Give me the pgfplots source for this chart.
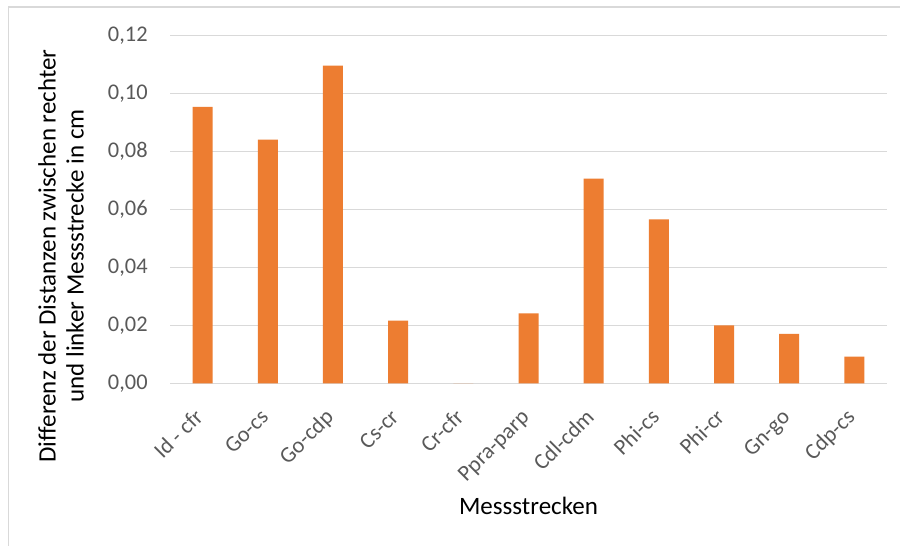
\documentclass[border=0pt]{standalone}
\usepackage{pgfplots}
\pgfplotsset{compat=1.18}
\usepackage{fontspec}
\setmainfont{Carlito}
\definecolor{barorange}{HTML}{ED7D31}
\definecolor{gridgray}{HTML}{D9D9D9}
\definecolor{ticktext}{HTML}{595959}
\begin{document}
\begin{tikzpicture}
% page area and chart frame (1 px = 0.5 pt)
\path[fill=white, use as bounding box] (0pt,0pt) rectangle (450pt,273pt);
\draw[gridgray, line width=0.6pt] (4.25pt,0pt) -- (4.25pt,269.5pt) -- (450pt,269.5pt);
\begin{axis}[
  at={(85pt,81.35pt)}, anchor=south west,
  scale only axis, width=358.5pt, height=173.8pt,
  xmin=-0.5, xmax=10.5, ymin=0, ymax=0.12,
  xtick={0,...,10},
  xticklabels={Id - cfr, Go-cs, Go-cdp, Cs-cr, Cr-cfr, Ppra-parp, Cdl-cdm, Phi-cs, Phi-cr, Gn-go, Cdp-cs},
  ytick={0,0.02,0.04,0.06,0.08,0.10,0.12},
  scaled y ticks=false,
  /pgf/number format/.cd, fixed, fixed zerofill, precision=2, use comma, assume math mode=true,
  /pgfplots/.cd,
  major tick length=0pt,
  axis line style={draw=none},
  ymajorgrids, grid style={gridgray, line width=0.7pt},
  tick label style={font=\fontsize{11.2}{13}\selectfont, text=ticktext},
  yticklabel style={inner sep=0pt, anchor=east, xshift=-11pt},
  xticklabel style={inner sep=0pt, anchor=base east, yshift=-17.5pt, xshift=1pt, rotate=45},
  clip=false,
]
\addplot[ybar, bar width=10pt, bar shift=0pt, fill=barorange, draw=none]
  coordinates {(0,0.0954) (1,0.0841) (2,0.1097) (3,0.0216) (4,0) (5,0.0241)
               (6,0.0707) (7,0.0566) (8,0.0200) (9,0.0171) (10,0.0092)};
\end{axis}
% axis titles
\node[anchor=base, font=\fontsize{12.5}{14}\selectfont] at (264.25pt,15.5pt) {Messstrecken};
\node[rotate=90, align=center, font=\fontsize{12.5}{14}\selectfont] at (30.5pt,145pt)
  {Differenz der Distanzen zwischen rechter\\und linker Messstrecke in cm};
\end{tikzpicture}
\end{document}
